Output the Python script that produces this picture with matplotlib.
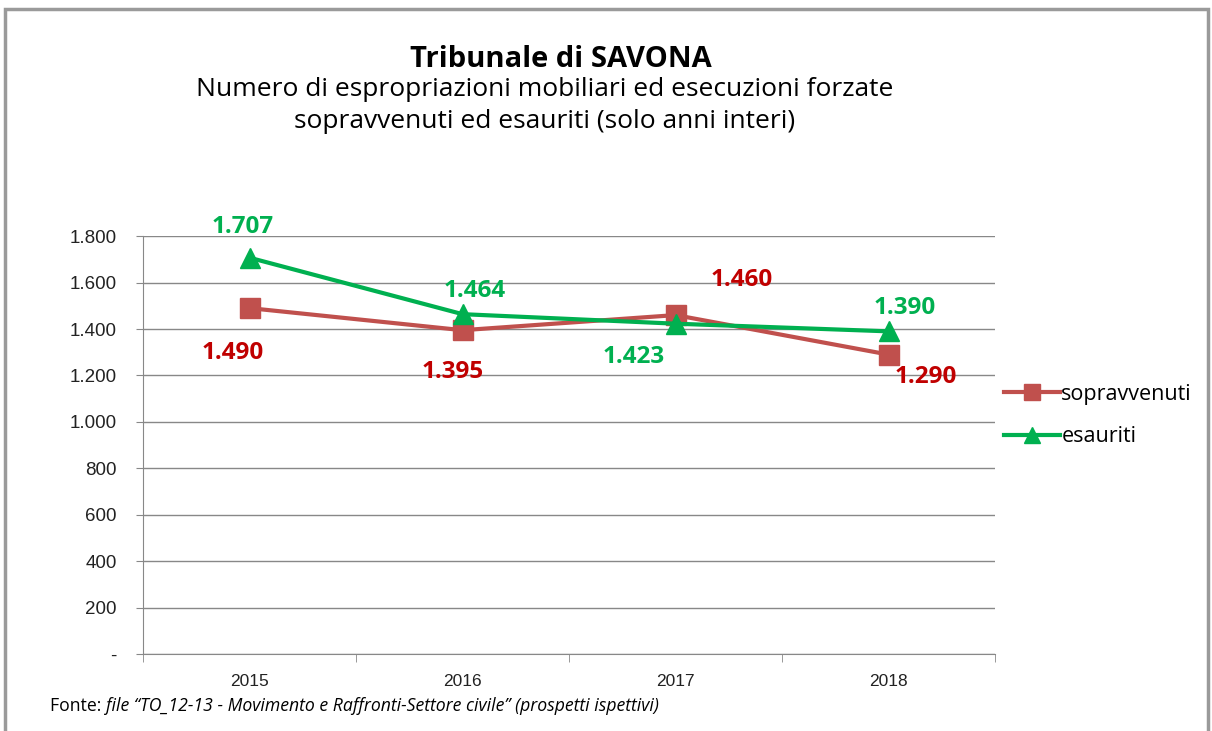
import matplotlib.pyplot as plt
from matplotlib.patches import Rectangle
from matplotlib.ticker import FuncFormatter

plt.rcParams['font.family'] = ['Liberation Sans', 'DejaVu Sans']

# dati
anni = ['2015', '2016', '2017', '2018']
sopravvenuti = [1490, 1395, 1460, 1290]
esauriti = [1707, 1464, 1423, 1390]

rosso = '#C0504D'
rosso_txt = '#C00000'
verde = '#00B050'

fig = plt.figure(figsize=(12.12, 7.31), dpi=100)
ax = fig.add_axes([0.118, 0.105, 0.703, 0.572])

x = list(range(len(anni)))
ax.plot(x, sopravvenuti, color=rosso, lw=3, marker='s', markersize=14,
        label='sopravvenuti', zorder=5)
ax.plot(x, esauriti, color=verde, lw=3, marker='^', markersize=14,
        label='esauriti', zorder=6)

def fmt(v):
    return f'{v:,}'.replace(',', '.')

# etichette dei dati (offset in punti)
off_s = [(-12, -32), (-7, -30), (48, 25), (27, -16)]
off_e = [(-5, 22), (9, 17), (-30, -24), (12, 17)]
for i in x:
    ax.annotate(fmt(sopravvenuti[i]), (i, sopravvenuti[i]), xytext=off_s[i],
                textcoords='offset points', ha='center', va='center',
                color=rosso_txt, fontsize=17.5, fontweight='bold', family='Open Sans')
    ax.annotate(fmt(esauriti[i]), (i, esauriti[i]), xytext=off_e[i],
                textcoords='offset points', ha='center', va='center',
                color=verde, fontsize=17.5, fontweight='bold', family='Open Sans')

ax.set_xlim(-0.5, 3.5)
ax.set_ylim(0, 1800)
ax.set_yticks(range(0, 1801, 200))
ax.yaxis.set_major_formatter(FuncFormatter(lambda v, p: '-' if v == 0 else fmt(int(v))))
ax.set_xticks(x)
ax.set_xticklabels(anni)
ax.set_xticks([-0.5, 0.5, 1.5, 2.5, 3.5], minor=True)
ax.tick_params(axis='x', which='major', length=0, pad=14, labelsize=12.5, colors='#222222')
ax.tick_params(axis='x', which='minor', length=6, color='#888888')
ax.tick_params(axis='y', length=5, color='#888888', labelsize=13.5, pad=14, labelcolor='#222222')
ax.grid(axis='y', color='#888888', lw=1)
for s in ['top', 'right']:
    ax.spines[s].set_visible(False)
ax.spines['left'].set_color('#888888')
ax.spines['bottom'].set_color('#888888')

ax.legend(loc='center left', bbox_to_anchor=(0.988, 0.571), frameon=False,
          prop={'family': 'Open Sans', 'size': 15.5}, handlelength=2.6,
          handletextpad=0.05, labelspacing=1.0, markerscale=0.85)

# titoli
fig.text(0.463, 0.918, 'Tribunale di SAVONA', ha='center', va='center',
         fontsize=21, fontweight='bold', family='Open Sans')
fig.text(0.449, 0.877, 'Numero di espropriazioni mobiliari ed esecuzioni forzate',
         ha='center', va='center', fontsize=19, family='Open Sans')
fig.text(0.449, 0.834, 'sopravvenuti ed esauriti (solo anni interi)',
         ha='center', va='center', fontsize=19, family='Open Sans')

# fonte
t1 = fig.text(0.041, 0.034, 'Fonte: ', ha='left', va='center', fontsize=12.7, family='Open Sans')
ax.annotate('file \u201cTO_12-13 - Movimento e Raffronti-Settore civile\u201d (prospetti ispettivi)',
            xy=(1, 0.5), xycoords=t1, ha='left', va='center', fontsize=12.7,
            style='italic', family='Open Sans', annotation_clip=False)

# cornice
fig.patches.append(Rectangle((0.004, -0.01), 0.993, 0.998, transform=fig.transFigure,
                             fill=False, edgecolor='#9a9a9a', lw=2.5))

fig.savefig('out.png', dpi=100)
